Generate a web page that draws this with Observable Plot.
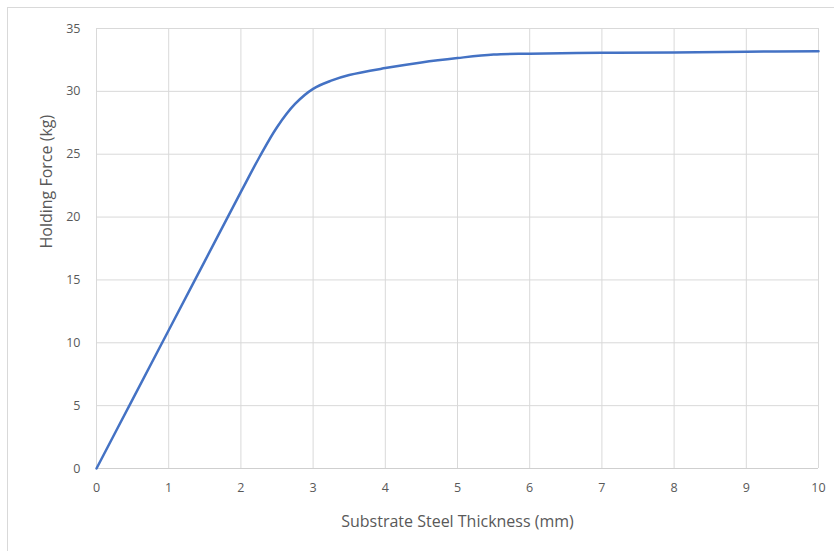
<!DOCTYPE html>
<html>
<head>
<meta charset="utf-8">
<script src="https://cdn.jsdelivr.net/npm/d3@7"></script>
<script src="https://cdn.jsdelivr.net/npm/@observablehq/plot@0.6"></script>
<style>
  html, body { margin: 0; padding: 0; background: #fff; }
  #wrap { position: relative; width: 834px; height: 551px; overflow: hidden; }
  #border { position: absolute; left: 7px; top: 7px; width: 840px; height: 560px; border: 1px solid #d9d9d9; box-sizing: border-box; pointer-events: none; }
  #chart { position: absolute; left: 0; top: 0; }
</style>
</head>
<body>
<div id="wrap"><div id="border"></div><div id="chart"></div></div>
<script>
const thickness = [0, 0.5, 1, 1.5, 2, 2.25, 2.5, 2.75, 3, 3.25, 3.5, 4, 4.5, 5, 5.5, 6, 7, 8, 9, 10];
const force     = [0, 5.5, 11, 16.5, 22, 24.7, 27.15, 29.0, 30.2, 30.85, 31.3, 31.85, 32.3, 32.65, 32.93, 33.0, 33.07, 33.1, 33.15, 33.2];
const xTicks = [0, 1, 2, 3, 4, 5, 6, 7, 8, 9, 10];
const yTicks = [0, 5, 10, 15, 20, 25, 30, 35];

const data = thickness.map((t, i) => ({t, f: force[i]}));

const chart = Plot.plot({
  width: 834,
  height: 551,
  marginLeft: 96,
  marginRight: 16,
  marginTop: 28,
  marginBottom: 83,
  style: { fontFamily: "'Open Sans', 'Noto Sans', sans-serif", fontSize: "12.5px", color: "#595959", background: "transparent" },
  x: { domain: [0, 10], ticks: xTicks, label: null },
  y: { domain: [0, 35], ticks: yTicks, label: null },
  marks: [
    Plot.gridX(xTicks, { stroke: "#d9d9d9", strokeOpacity: 1, strokeWidth: 1 }),
    Plot.gridY(yTicks, { stroke: "#d9d9d9", strokeOpacity: 1, strokeWidth: 1 }),
    Plot.ruleY([0], { stroke: "#cfcfcf", strokeWidth: 1 }),
    Plot.axisX(xTicks, { tickSize: 0, tickPadding: 15, fill: "#595959" }),
    Plot.axisY(yTicks, { tickSize: 0, tickPadding: 16, fill: "#595959" }),
    Plot.line(data, { x: "t", y: "f", stroke: "#4472C4", strokeWidth: 2.5, curve: "catmull-rom" }),
    Plot.text(["Substrate Steel Thickness (mm)"], { frameAnchor: "bottom", lineAnchor: "middle", dy: 53, fontSize: 16, fill: "#595959" }),
    Plot.text(["Holding Force (kg)"], { frameAnchor: "left", dx: -50, rotate: -90, fontSize: 16, fill: "#595959" })
  ]
});
document.getElementById("chart").appendChild(chart);
</script>
</body>
</html>
